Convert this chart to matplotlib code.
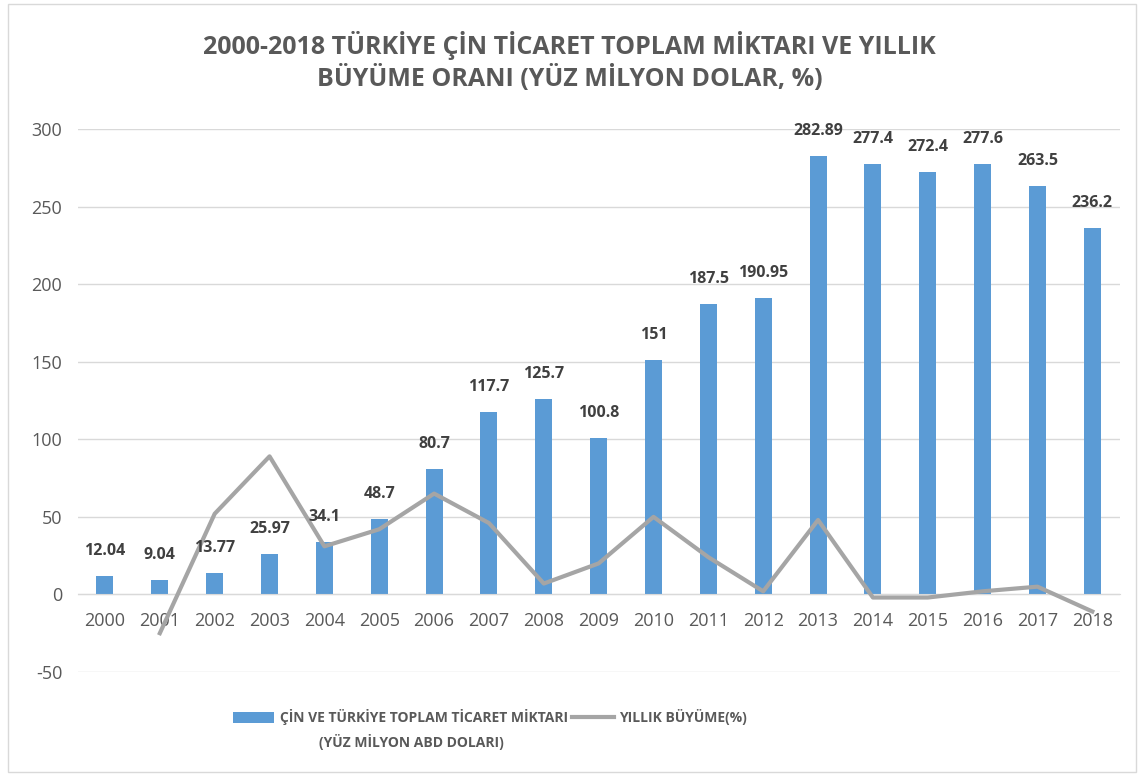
import matplotlib.pyplot as plt
from matplotlib.patches import Rectangle

years = ['2000', '2001', '2002', '2003', '2004', '2005', '2006', '2007', '2008', '2009',
         '2010', '2011', '2012', '2013', '2014', '2015', '2016', '2017', '2018']
trade = [12.04, 9.04, 13.77, 25.97, 34.1, 48.7, 80.7, 117.7, 125.7, 100.8,
         151, 187.5, 190.95, 282.89, 277.4, 272.4, 277.6, 263.5, 236.2]
growth_years = years[1:]
growth = [-25, 52, 89, 31, 42, 65, 46, 7, 20, 50, 24, 2, 48, -2, -2, 2, 5, -11]

title = "2000-2018 TÜRKİYE ÇİN TİCARET TOPLAM MİKTARI VE YILLIK\nBÜYÜME ORANI (YÜZ MİLYON DOLAR, %)"
bar_label = "ÇİN VE TÜRKİYE TOPLAM TİCARET MİKTARI"
bar_label2 = "(YÜZ MİLYON ABD DOLARI)"
line_label = "YILLIK BÜYÜME(%)"

plt.rcParams['font.family'] = ['Open Sans', 'DejaVu Sans']
plt.rcParams['axes.unicode_minus'] = False

fig = plt.figure(figsize=(11.39, 7.74), dpi=100)
ax = fig.add_axes([0.0681, 0.1318, 0.915, 0.7015])

x = list(range(len(years)))
bars = ax.bar(x, trade, width=0.31, color='#5B9BD5', zorder=2, label=bar_label)
gx = [years.index(y) for y in growth_years]
line, = ax.plot(gx, growth, color='#A5A5A5', lw=3, zorder=3, label=line_label)

for xi, v in zip(x, trade):
    ax.annotate(f"{v:g}", (xi, v), xytext=(0, 18), textcoords='offset points',
                ha='center', va='center', fontsize=11.5, fontweight='bold', color='#404040')

ax.set_ylim(-50, 300)
ax.set_xlim(-0.5, len(years) - 0.5)
ax.set_yticks([-50, 0, 50, 100, 150, 200, 250, 300])
ax.yaxis.grid(True, color='#D9D9D9', lw=1, zorder=0)
ax.set_axisbelow(True)
for s in ['top', 'right', 'left']:
    ax.spines[s].set_visible(False)
ax.spines['bottom'].set_position(('data', 0))
ax.spines['bottom'].set_color('#D9D9D9')
ax.set_xticks(x)
ax.set_xticklabels(years)
ax.tick_params(axis='x', length=0, pad=13, labelsize=13, labelcolor='#595959')
ax.tick_params(axis='y', length=0, pad=11, labelsize=13, labelcolor='#595959')

fig.text(0.5, 0.921, title, ha='center', va='center', fontsize=18, fontweight='bold',
         color='#595959', linespacing=1.25)

leg = fig.legend(handles=[bars, line], loc='center', bbox_to_anchor=(0.43, 0.073), ncol=2,
                 frameon=False, fontsize=10, handlelength=3.0, handleheight=0.9,
                 columnspacing=0.3, handletextpad=0.4)
for t in leg.get_texts():
    t.set_color('#595959')
    t.set_fontweight('bold')
fig.text(0.361, 0.041, bar_label2, ha='center', va='center', fontsize=10,
         fontweight='bold', color='#595959')

fig.patches.append(Rectangle((0.007, 0.002), 0.99, 0.993, transform=fig.transFigure,
                             fill=False, edgecolor='#D9D9D9', lw=1))

fig.savefig('out.png', dpi=100)
